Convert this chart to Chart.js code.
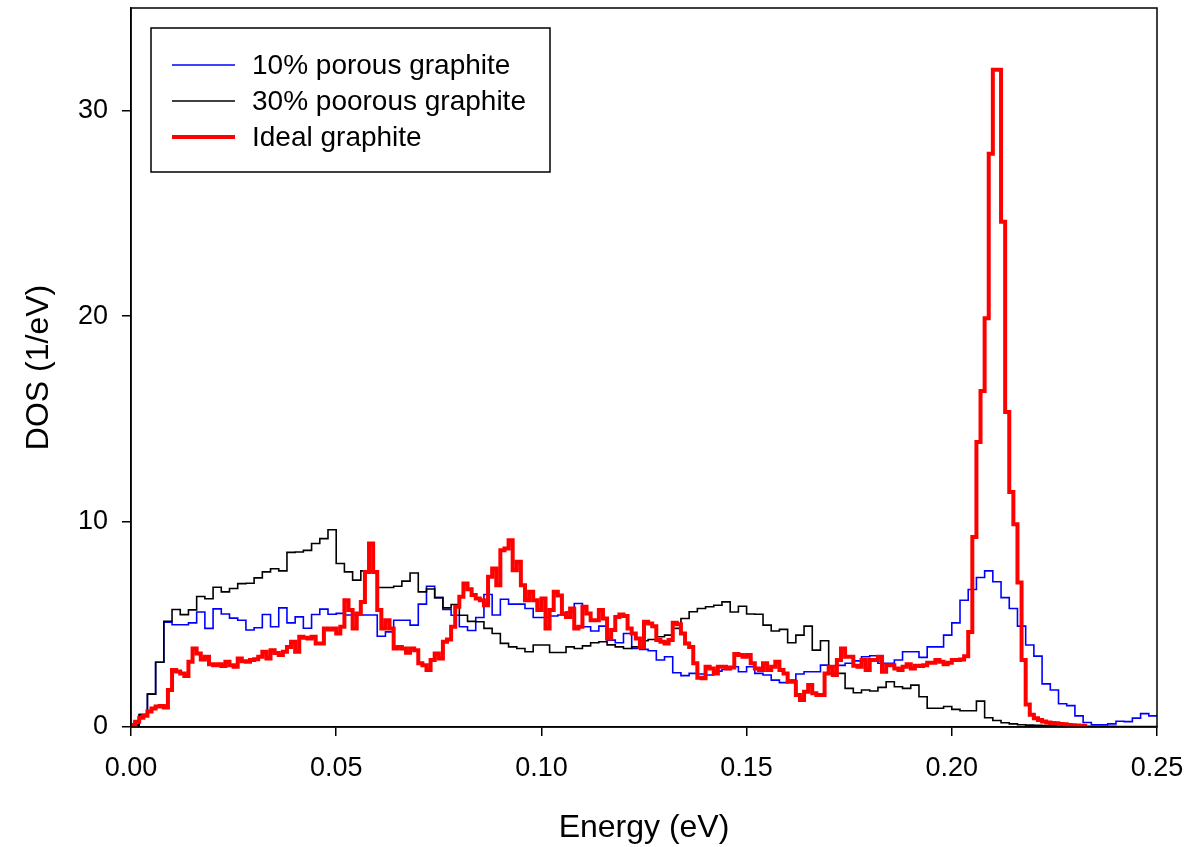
<!DOCTYPE html>
<html>
<head>
<meta charset="utf-8">
<script src="https://cdn.jsdelivr.net/npm/chart.js@4.4.1/dist/chart.umd.min.js"></script>
<style>
  html, body { margin: 0; padding: 0; background: #ffffff; }
  #wrap { width: 1198px; height: 847px; position: relative; }
</style>
</head>
<body>
<div id="wrap"><canvas id="c" width="1198" height="847"></canvas></div>
<script>
// ---------------- DATA ----------------
const seriesLabels = ["10% porous graphite", "30% poorous graphite", "Ideal graphite"];
const xTickValues = [0, 0.05, 0.10, 0.15, 0.20, 0.25];
const yTickValues = [0, 10, 20, 30];

// histogram bin widths (eV)
const binWidthPorous = 0.002;
const binWidthIdeal = 0.001;

// 10% porous graphite, DOS per 0.002 eV bin starting at 0
const dos10 = [
  0.1, 0.6, 1.6, 3.15, 5.1, 4.98, 4.98, 5.07, 5.6, 4.8,
  5.75, 5.5, 5.3, 5.2, 4.72, 4.83, 5.48, 4.88, 5.8, 5.07,
  5.36, 4.81, 5.48, 5.74, 5.49, 5.53, 5.45, 5.45, 5.45, 5.45,
  4.42, 4.63, 5.2, 5.2, 4.96, 5.98, 6.85, 6.3, 5.72, 5.44,
  4.88, 4.7, 5.33, 6.45, 5.45, 6.22, 5.98, 5.98, 5.77, 5.33,
  5.33, 5.4, 5.45, 5.6, 6.01, 4.88, 4.67, 4.91, 4.23, 4.1,
  4.55, 3.82, 3.78, 3.71, 3.26, 3.42, 2.64, 2.5, 2.61, 2.58,
  2.53, 2.72, 2.8, 2.93, 2.69, 2.93, 2.61, 2.53, 2.28, 2.16,
  2.28, 2.58, 2.69, 2.69, 3.01, 2.98, 3.0, 3.1, 3.22, 3.42,
  3.47, 3.1, 3.1, 3.26, 3.66, 3.66, 3.39, 3.9, 3.9, 4.47,
  5.07, 6.17, 6.69, 7.28, 7.6, 7.07, 6.3, 5.77, 4.91, 3.99,
  3.45, 2.1, 1.8, 1.13, 1.04, 0.54, 0.22, 0.11, 0.11, 0.15,
  0.28, 0.26, 0.43, 0.65, 0.54
];

// 30% porous graphite, DOS per 0.002 eV bin starting at 0
const dos30 = [
  0.1, 0.6, 1.6, 3.15, 5.15, 5.72, 5.47, 5.7, 6.35, 6.24,
  6.8, 6.58, 6.74, 6.98, 7.0, 7.26, 7.55, 7.7, 7.6, 8.5,
  8.52, 8.6, 8.93, 9.17, 9.6, 7.96, 7.55, 7.15, 7.6, 7.6,
  6.79, 6.79, 6.85, 7.1, 7.5, 6.58, 6.72, 6.3, 5.8, 5.96,
  5.44, 5.14, 5.12, 4.8, 4.55, 4.07, 3.9, 3.82, 3.66, 3.99,
  3.99, 3.63, 3.63, 3.9, 3.82, 3.95, 4.1, 4.15, 4.0, 3.9,
  3.82, 3.9, 4.2, 4.26, 4.39, 4.47, 4.8, 5.28, 5.61, 5.77,
  5.85, 5.93, 6.09, 5.6, 5.88, 5.5, 5.49, 4.96, 4.67, 4.75,
  4.1, 4.47, 4.91, 3.74, 4.2, 2.61, 2.61, 1.88, 1.67, 1.8,
  1.75, 1.93, 2.2, 1.96, 1.88, 2.04, 1.47, 0.91, 0.91, 1.0,
  0.86, 0.79, 0.79, 1.26, 0.45, 0.32, 0.21, 0.15, 0.11, 0.09,
  0.08, 0.07, 0.06, 0.05, 0.05, 0.04, 0.04, 0.03, 0.03, 0.03,
  0.02, 0.02, 0.02, 0.02, 0.02
];

// Ideal graphite, DOS per 0.001 eV bin starting at 0
const dosIdeal = [
  0.1, 0.26, 0.45, 0.55, 0.75, 0.9, 1.0, 1.02, 0.95, 1.8,
  2.77, 2.7, 2.6, 2.48, 3.18, 3.82, 3.58, 3.29, 3.42, 3.06,
  3.0, 3.05, 2.97, 3.18, 3.0, 2.93, 3.34, 3.2, 3.18, 3.26,
  3.3, 3.42, 3.66, 3.34, 3.74, 3.6, 3.5, 3.66, 3.9, 4.15,
  3.66, 4.39, 4.35, 4.31, 4.39, 4.07, 4.07, 4.8, 4.75, 4.8,
  4.55, 4.88, 6.17, 5.69, 4.8, 5.53, 6.09, 7.55, 8.93, 7.55,
  5.69, 4.8, 5.2, 4.8, 3.82, 3.9, 3.82, 3.61, 3.82, 3.74,
  3.1, 3.01, 2.77, 3.26, 3.58, 3.34, 4.15, 4.26, 4.88, 5.85,
  6.34, 6.98, 6.7, 6.42, 6.26, 6.17, 5.93, 7.31, 7.71, 6.9,
  8.6, 8.69, 9.09, 7.63, 8.04, 6.9, 6.17, 6.58, 6.17, 5.69,
  6.26, 4.8, 5.69, 6.58, 6.4, 5.53, 5.36, 5.77, 4.8, 4.88,
  5.85, 5.53, 5.2, 5.2, 5.69, 5.28, 4.31, 4.72, 5.36, 5.48,
  5.4, 4.8, 4.55, 4.31, 3.9, 5.12, 5.04, 4.9, 4.23, 4.15,
  4.07, 4.23, 5.07, 5.0, 4.55, 4.07, 3.9, 3.1, 2.4, 2.37,
  2.93, 2.85, 2.61, 2.93, 2.93, 2.85, 2.9, 3.55, 3.5, 3.42,
  3.5, 3.1, 2.85, 2.77, 3.1, 2.77, 2.93, 3.18, 2.77, 2.61,
  2.2, 2.2, 1.56, 1.31, 1.72, 2.04, 1.64, 1.56, 1.56, 2.61,
  2.93, 2.53, 3.26, 3.82, 3.42, 3.42, 2.98, 2.93, 3.26, 2.77,
  3.26, 3.26, 3.42, 2.69, 3.01, 3.01, 2.85, 2.77, 2.93, 3.06,
  2.85, 2.98, 2.97, 3.01, 3.13, 3.13, 3.26, 3.18, 3.05, 3.13,
  3.26, 3.26, 3.29, 3.45, 4.63, 9.25, 13.87, 16.35, 19.9, 27.9,
  32.0, 32.0, 24.6, 15.33, 11.44, 9.87, 7.03, 3.26, 1.1, 0.6,
  0.42, 0.34, 0.27, 0.22, 0.2, 0.18, 0.15, 0.13, 0.1, 0.08,
  0.07, 0.06, 0.05
];

// ---------------- BUILD ----------------
// each value holds over its bin [i*w, (i+1)*w]; a closing point ends the last bin
function histPoints(values, width) {
  const pts = values.map((v, i) => ({ x: +(i * width).toFixed(6), y: v }));
  pts.push({ x: +(values.length * width).toFixed(6), y: values[values.length - 1] });
  return pts;
}

const FONT = "'Liberation Sans', Arial, sans-serif";

const framePlugin = {
  id: 'frame',
  afterDatasetsDraw(chart) {
    const { ctx, chartArea: a } = chart;
    ctx.save();
    ctx.strokeStyle = '#000';
    ctx.lineWidth = 1.5;
    ctx.strokeRect(a.left, a.top, a.right - a.left, a.bottom - a.top);
    ctx.restore();
  }
};

const legendPlugin = {
  id: 'boxLegend',
  afterDraw(chart) {
    const { ctx, chartArea: a } = chart;
    const order = [0, 1, 2];
    const bx = a.left + 20, by = a.top + 20, bw = 399, bh = 144;
    ctx.save();
    ctx.fillStyle = '#fff';
    ctx.fillRect(bx, by, bw, bh);
    ctx.strokeStyle = '#000';
    ctx.lineWidth = 1.5;
    ctx.strokeRect(bx, by, bw, bh);
    ctx.font = '28px ' + FONT;
    ctx.textBaseline = 'middle';
    ctx.textAlign = 'left';
    order.forEach((di, r) => {
      const ds = chart.data.datasets[di];
      const y = by + 37 + r * 36;
      ctx.beginPath();
      ctx.strokeStyle = ds.borderColor;
      ctx.lineWidth = ds.borderWidth;
      ctx.moveTo(bx + 21, y);
      ctx.lineTo(bx + 84, y);
      ctx.stroke();
      ctx.fillStyle = '#000';
      ctx.fillText(ds.label, bx + 101, y + 1);
    });
    ctx.restore();
  }
};

new Chart(document.getElementById('c'), {
  type: 'line',
  data: {
    datasets: [
      { label: seriesLabels[0], data: histPoints(dos10, binWidthPorous), borderColor: '#0000ff', borderWidth: 1.6, stepped: 'before', pointRadius: 0, fill: false, order: 2 },
      { label: seriesLabels[1], data: histPoints(dos30, binWidthPorous), borderColor: '#000000', borderWidth: 1.6, stepped: 'before', pointRadius: 0, fill: false, order: 1 },
      { label: seriesLabels[2], data: histPoints(dosIdeal, binWidthIdeal), borderColor: '#ff0000', borderWidth: 4, stepped: 'before', pointRadius: 0, fill: false, order: 0 }
    ]
  },
  options: {
    responsive: false,
    animation: false,
    devicePixelRatio: 1,
    layout: { padding: { left: 0, top: 8, right: 41, bottom: 0 } },
    plugins: { legend: { display: false }, tooltip: { enabled: false } },
    scales: {
      x: {
        type: 'linear',
        min: 0, max: 0.25,
        afterBuildTicks(scale) { scale.ticks = xTickValues.map(v => ({ value: v })); },
        afterFit(scale) { scale.height = 120; scale.paddingLeft = 0; scale.paddingRight = 0; },
        ticks: {
          callback: v => Number(v).toFixed(2),
          font: { family: FONT, size: 27 },
          color: '#000',
          padding: 16,
          maxRotation: 0,
          autoSkip: false
        },
        grid: { drawOnChartArea: false, tickLength: 9, color: '#000', lineWidth: 1.5 },
        border: { display: true, color: '#000', width: 1.5 },
        title: { display: true, text: 'Energy (eV)', font: { family: FONT, size: 32 }, color: '#000', padding: { top: 0, bottom: 0 } }
      },
      y: {
        type: 'linear',
        min: 0, max: 35,
        afterBuildTicks(scale) { scale.ticks = yTickValues.map(v => ({ value: v })); },
        afterFit(scale) { scale.width = 131; scale.paddingTop = 0; scale.paddingBottom = 0; },
        ticks: {
          font: { family: FONT, size: 27 },
          color: '#000',
          padding: 14,
          autoSkip: false
        },
        grid: { drawOnChartArea: false, tickLength: 9, color: '#000', lineWidth: 1.5 },
        border: { display: true, color: '#000', width: 1.5 },
        title: { display: true, text: 'DOS (1/eV)', font: { family: FONT, size: 32 }, color: '#000', padding: { top: 20, bottom: 0 } }
      }
    }
  },
  plugins: [framePlugin, legendPlugin]
});
</script>
</body>
</html>
